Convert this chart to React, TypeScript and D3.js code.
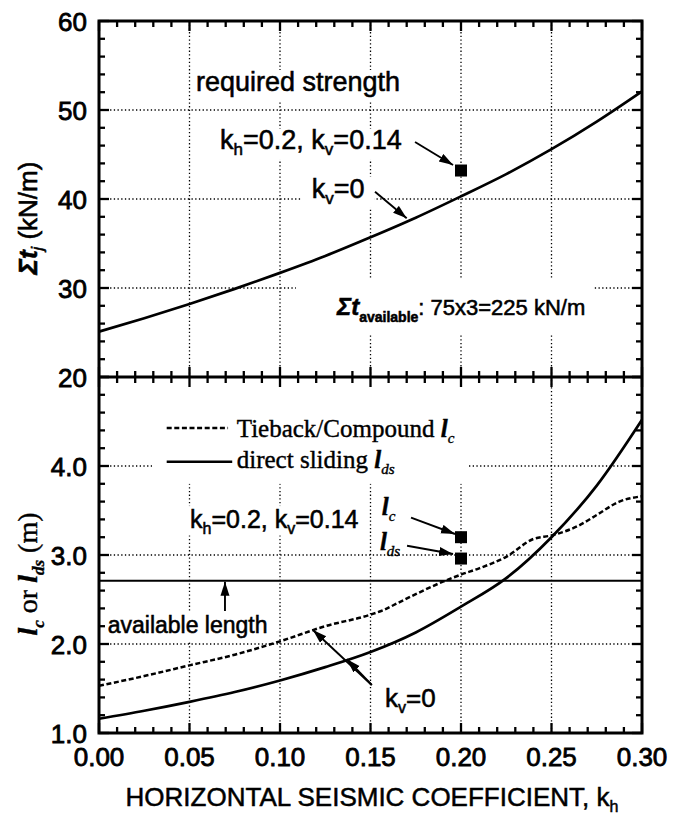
import React from "react";
import * as d3 from "d3";

// ---------- data ----------
const khTop = [0, 0.025, 0.05, 0.075, 0.1, 0.125, 0.15, 0.175, 0.2, 0.225, 0.25, 0.275, 0.3];
const sumTj = [25.1, 26.6, 28.2, 29.9, 31.7, 33.6, 35.7, 37.9, 40.3, 42.8, 45.6, 48.7, 52.1];

const khDs = [0, 0.025, 0.05, 0.075, 0.1, 0.125, 0.15, 0.175, 0.2, 0.225, 0.25, 0.275, 0.3];
const lDs = [1.16, 1.25, 1.35, 1.46, 1.59, 1.74, 1.91, 2.13, 2.42, 2.74, 3.2, 3.78, 4.52];

const khC = [0, 0.025, 0.05, 0.075, 0.1, 0.125, 0.15, 0.157, 0.165, 0.175, 0.19, 0.2, 0.21, 0.225, 0.24, 0.25, 0.265, 0.275, 0.2875, 0.3];
const lC = [1.53, 1.64, 1.76, 1.88, 2.03, 2.2, 2.33, 2.38, 2.46, 2.56, 2.7, 2.78, 2.85, 2.98, 3.18, 3.22, 3.33, 3.45, 3.6, 3.66];

const pointTop = { kh: 0.2, v: 43.2 };
const pointLc = { kh: 0.2, v: 3.2 };
const pointLds = { kh: 0.2, v: 2.96 };
const availableLength = 2.71;

const xTickLabels = ["0.00", "0.05", "0.10", "0.15", "0.20", "0.25", "0.30"];
const topTickLabels = ["20", "30", "40", "50", "60"];
const botTickLabels = ["1.0", "2.0", "3.0", "4.0"];

// ---------- layout ----------
const W = 683, H = 817;
const X0 = 99, X1 = 642, TOP = 21, MID = 377, BOT = 733;
const SANS = "'Liberation Sans', Arial, Helvetica, sans-serif";
const SERIF = "'Liberation Serif', 'Times New Roman', serif";

const x = d3.scaleLinear().domain([0, 0.3]).range([X0, X1]);
const yT = d3.scaleLinear().domain([20, 60]).range([MID, TOP]);
const yB = d3.scaleLinear().domain([1, 5]).range([BOT, MID]);

const xMajor = xTickLabels.map(Number);
const xMinor = d3.range(0, 31).map((i) => i / 100);
const topMajor = topTickLabels.map(Number);
const topMinor = d3.range(20, 61, 2);
const botMajor = d3.range(1, 6);
const botMinor = d3.range(0, 21).map((i) => 1 + i * 0.2);

function T({ x: px, y: py, size, anchor = "start", family = SANS, sx = 1, weight = "normal", fstyle = "normal", sw = 0.55, children }: any) {
  return (
    <text
      transform={`translate(${px},${py}) scale(${sx},1)`}
      fontSize={size}
      fontFamily={family}
      textAnchor={anchor}
      fontWeight={weight}
      fontStyle={fstyle}
      fill="#000"
      stroke="#000"
      strokeWidth={sw}
    >
      {children}
    </text>
  );
}

function Arrow({ x1, y1, x2, y2 }: any) {
  return <line x1={x1} y1={y1} x2={x2} y2={y2} stroke="#000" strokeWidth={1.9} markerEnd="url(#ah)" />;
}

export default function App() {
  const lineTop = d3.line<number>().x((_, i) => x(khTop[i])).y((d) => yT(d)).curve(d3.curveMonotoneX);
  const lineDs = d3.line<number>().x((_, i) => x(khDs[i])).y((d) => yB(d)).curve(d3.curveMonotoneX);
  const lineC = d3.line<number>().x((_, i) => x(khC[i])).y((d) => yB(d)).curve(d3.curveMonotoneX);

  const grid = { stroke: "#000", strokeWidth: 1.3, strokeDasharray: "1.3,2.4" };
  const inner = xMajor.slice(1, -1);

  // white boxes hiding gridlines behind labels
  const boxes = [
    [x(0.051), yT(54.5), x(0.172), yT(51.0)],
    [x(0.064), yT(47.9), x(0.172), yT(44.4)],
    [x(0.1115), yT(42.5), x(0.152), yT(39.0)],
    [x(0.1088), yT(31.1), x(0.2735), yT(24.9)],
    [x(0.0293), yB(5), x(0.204), yB(3.8)],
    [x(0.047), yB(3.55), x(0.145), yB(3.22)],
    [x(0.003), yB(2.35), x(0.093), yB(2.02)],
  ];

  const tickLen = { major: 10, minor: 6 };
  const ticks: any[] = [];
  const isMajor = (v: number, arr: number[]) => arr.some((m) => Math.abs(m - v) < 1e-9);
  xMinor.forEach((v) => {
    const L = isMajor(v, xMajor) ? tickLen.major : tickLen.minor;
    const px = x(v);
    ticks.push([px, TOP, px, TOP + L]);
    ticks.push([px, BOT, px, BOT - L]);
    ticks.push([px, MID - L, px, MID + L]);
  });
  topMinor.forEach((v) => {
    const L = isMajor(v, topMajor) ? tickLen.major : tickLen.minor;
    const py = yT(v);
    ticks.push([X0, py, X0 + L, py]);
    ticks.push([X1, py, X1 - L, py]);
  });
  botMinor.forEach((v) => {
    const L = isMajor(v, botMajor) ? tickLen.major : tickLen.minor;
    const py = yB(v);
    ticks.push([X0, py, X0 + L, py]);
    ticks.push([X1, py, X1 - L, py]);
  });

  const sq = 12;

  return (
    <svg width={W} height={H} style={{ position: "absolute", left: 0, top: 0, background: "#fff" }}>
      <defs>
        <marker id="ah" markerUnits="userSpaceOnUse" markerWidth={15} markerHeight={10} refX={14} refY={4.5} orient="auto">
          <path d="M0,0 L14,4.5 L0,9 Z" fill="#000" />
        </marker>
      </defs>
      <rect x={0} y={0} width={W} height={H} fill="#fff" />

      {/* gridlines */}
      {inner.map((v) => (
        <line key={"gx" + v} x1={x(v)} x2={x(v)} y1={TOP} y2={BOT} {...grid} />
      ))}
      {[30, 40, 50].map((v) => (
        <line key={"gt" + v} x1={X0} x2={X1} y1={yT(v)} y2={yT(v)} {...grid} />
      ))}
      {[2, 3, 4].map((v) => (
        <line key={"gb" + v} x1={X0} x2={X1} y1={yB(v)} y2={yB(v)} {...grid} />
      ))}
      {boxes.map((b, i) => (
        <rect key={"bx" + i} x={b[0]} y={b[1]} width={b[2] - b[0]} height={b[3] - b[1]} fill="#fff" />
      ))}

      {/* curves */}
      <path d={lineTop(sumTj) || ""} fill="none" stroke="#000" strokeWidth={2.7} />
      <path d={lineDs(lDs) || ""} fill="none" stroke="#000" strokeWidth={2.7} />
      <path d={lineC(lC) || ""} fill="none" stroke="#000" strokeWidth={2.5} strokeDasharray="5,2.6" />
      <line x1={X0} x2={X1} y1={yB(availableLength)} y2={yB(availableLength)} stroke="#000" strokeWidth={2} />

      {/* points */}
      {[
        [x(pointTop.kh), yT(pointTop.v)],
        [x(pointLc.kh), yB(pointLc.v)],
        [x(pointLds.kh), yB(pointLds.v)],
      ].map((p, i) => (
        <rect key={"sq" + i} x={p[0] - sq / 2} y={p[1] - sq / 2} width={sq} height={sq} fill="#000" />
      ))}

      {/* frame */}
      <rect x={X0} y={TOP} width={X1 - X0} height={BOT - TOP} fill="none" stroke="#000" strokeWidth={3} />
      <line x1={X0} x2={X1} y1={MID} y2={MID} stroke="#000" strokeWidth={3.2} />
      {ticks.map((t, i) => (
        <line key={"t" + i} x1={t[0]} y1={t[1]} x2={t[2]} y2={t[3]} stroke="#000" strokeWidth={2.3} />
      ))}

      {/* tick labels */}
      {xMajor.map((v, i) => (
        <T key={"xl" + i} x={x(v)} y={766} size={26} anchor="middle" sw={0.8}>{xTickLabels[i]}</T>
      ))}
      {topMajor.map((v, i) => (
        <T key={"tl" + i} x={87} y={yT(v) + 9.5} size={26} anchor="end" sw={0.8}>{topTickLabels[i]}</T>
      ))}
      {botMajor.slice(0, 4).map((v, i) => (
        <T key={"bl" + i} x={87} y={yB(v) + 9.5} size={26} anchor="end" sw={0.8}>{botTickLabels[i]}</T>
      ))}

      {/* axis titles */}
      <T x={372} y={806} size={26} anchor="middle" sw={0.5}>
        HORIZONTAL SEISMIC COEFFICIENT, k<tspan fontSize={16} dy={6}>h</tspan>
      </T>
      <g transform="translate(37,218) rotate(-90)">
        <text textAnchor="middle" fontSize={26} fontFamily={SANS} stroke="#000" strokeWidth={0.6}>
          <tspan fontWeight="bold" fontStyle="italic">Σt</tspan>
          <tspan fontStyle="italic" fontSize={16} dy={6}>j</tspan>
          <tspan dy={-6}> (kN/m)</tspan>
        </text>
      </g>
      <g transform="translate(37,574) rotate(-90)">
        <text textAnchor="middle" fontSize={28} fontFamily={SERIF} stroke="#000" strokeWidth={0.4}>
          <tspan fontWeight="bold" fontStyle="italic">l</tspan>
          <tspan fontStyle="italic" fontWeight="bold" fontSize={17} dy={7}>c</tspan>
          <tspan dy={-7}> or </tspan>
          <tspan fontWeight="bold" fontStyle="italic">l</tspan>
          <tspan fontStyle="italic" fontWeight="bold" fontSize={17} dy={7}>ds</tspan>
          <tspan dy={-7}> (m)</tspan>
        </text>
      </g>

      {/* top annotations */}
      <T x={x(0.0536)} y={yT(52.13)} size={27}>required strength</T>
      <T x={x(0.0669)} y={yT(45.6)} size={27}>
        k<tspan fontSize={17} dy={6}>h</tspan><tspan dy={-6}>=0.2, k</tspan><tspan fontSize={17} dy={6}>v</tspan><tspan dy={-6}>=0.14</tspan>
      </T>
      <Arrow x1={x(0.1746)} y1={yT(46.4)} x2={x(0.1956)} y2={yT(43.82)} />
      <T x={x(0.1175)} y={yT(40.1)} size={27}>
        k<tspan fontSize={17} dy={6}>v</tspan><tspan dy={-6}>=0</tspan>
      </T>
      <Arrow x1={x(0.1525)} y1={yT(40.82)} x2={x(0.17)} y2={yT(37.83)} />
      <T x={x(0.1315)} y={yT(27.0)} size={22}>
        <tspan fontWeight="bold" fontStyle="italic" fontSize={24}>Σt</tspan>
        <tspan fontWeight="bold" fontSize={14} dy={7}>available</tspan>
        <tspan dy={-7}>: 75x3=225 kN/m</tspan>
      </T>

      {/* legend */}
      <line x1={x(0.0374)} x2={x(0.0713)} y1={yB(4.427)} y2={yB(4.427)} stroke="#000" strokeWidth={2.5} strokeDasharray="5,2.6" />
      <T x={x(0.0761)} y={yB(4.329)} size={25} family={SERIF} sw={0.4}>
        Tieback/Compound <tspan fontStyle="italic" fontWeight="bold">l</tspan><tspan fontStyle="italic" fontSize={15} dy={6}>c</tspan>
      </T>
      <line x1={x(0.0374)} x2={x(0.0736)} y1={yB(4.048)} y2={yB(4.048)} stroke="#000" strokeWidth={2.5} />
      <T x={x(0.0761)} y={yB(3.978)} size={25} family={SERIF} sw={0.4}>
        direct sliding <tspan fontStyle="italic" fontWeight="bold">l</tspan><tspan fontStyle="italic" fontSize={15} dy={6}>ds</tspan>
      </T>

      {/* bottom annotations */}
      <T x={x(0.0503)} y={yB(3.303)} size={25}>
        k<tspan fontSize={16} dy={6}>h</tspan><tspan dy={-6}>=0.2, k</tspan><tspan fontSize={16} dy={6}>v</tspan><tspan dy={-6}>=0.14</tspan>
      </T>
      <T x={x(0.1562)} y={yB(3.449)} size={25} family={SERIF} sw={0.4}>
        <tspan fontStyle="italic" fontWeight="bold">l</tspan><tspan fontStyle="italic" fontSize={15} dy={6}>c</tspan>
      </T>
      <T x={x(0.1552)} y={yB(3.056)} size={25} family={SERIF} sw={0.4}>
        <tspan fontStyle="italic" fontWeight="bold">l</tspan><tspan fontStyle="italic" fontSize={15} dy={6}>ds</tspan>
      </T>
      <Arrow x1={x(0.1724)} y1={yB(3.421)} x2={x(0.1967)} y2={yB(3.236)} />
      <Arrow x1={x(0.1702)} y1={yB(3.104)} x2={x(0.1956)} y2={yB(3.011)} />
      <Arrow x1={x(0.0696)} y1={yB(2.371)} x2={x(0.0696)} y2={yB(availableLength) + 1} />
      <T x={x(0.0048)} y={yB(2.124)} size={23}>available length</T>
      <Arrow x1={x(0.1507)} y1={yB(1.539)} x2={x(0.137)} y2={yB(1.83)} />
      <Arrow x1={x(0.1507)} y1={yB(1.539)} x2={x(0.1182)} y2={yB(2.157)} />
      <T x={x(0.158)} y={yB(1.296)} size={26}>
        k<tspan fontSize={16} dy={6}>v</tspan><tspan dy={-6}>=0</tspan>
      </T>
    </svg>
  );
}
